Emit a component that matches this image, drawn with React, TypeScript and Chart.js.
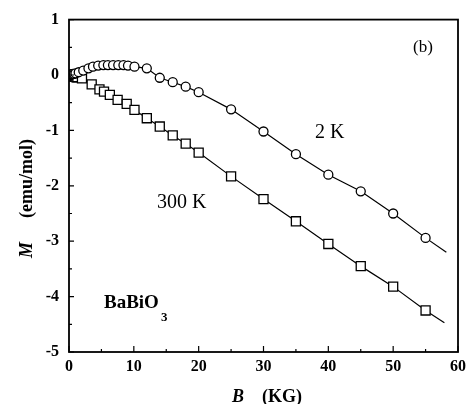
import React, { useEffect, useRef } from "react";
import { Chart, registerables } from "chart.js";

Chart.register(...registerables);

// 2 K series (circles)
const b2K = [0, 0.15, 0.3, 0.45, 0.6, 0.8, 1.0, 1.5, 2.2, 3.0, 3.7, 4.5, 5.3, 6.0, 6.8, 7.6, 8.4, 9.1, 10.1, 12, 14, 16, 18, 20, 25, 30, 35, 40, 45, 50, 55];
const m2K = [0, 0.0, 0.01, 0.01, 0.02, 0.02, 0.03, 0.05, 0.08, 0.12, 0.15, 0.17, 0.18, 0.18, 0.18, 0.18, 0.18, 0.17, 0.15, 0.12, -0.05, -0.13, -0.21, -0.31, -0.62, -1.02, -1.43, -1.80, -2.10, -2.50, -2.94];

// 300 K series (squares)
const b300K = [0, 0.1, 0.2, 0.3, 0.4, 0.5, 0.6, 0.7, 0.8, 0.9, 1.0, 1.15, 1.3, 2.0, 3.5, 4.7, 5.4, 6.3, 7.5, 8.9, 10.1, 12, 14, 16, 18, 20, 25, 30, 35, 40, 45, 50, 55];
const m300K = [0, 0.0, -0.01, -0.01, -0.01, -0.02, -0.02, -0.02, -0.03, -0.03, -0.03, -0.04, -0.04, -0.06, -0.17, -0.26, -0.30, -0.36, -0.45, -0.52, -0.63, -0.78, -0.93, -1.09, -1.24, -1.40, -1.83, -2.24, -2.64, -3.05, -3.45, -3.82, -4.25];

// fitted line extensions beyond the last measured point
const ext2KB = [55, 58.2];
const ext2KM = [-2.94, -3.2];
const ext300KB = [55, 57.9];
const ext300KM = [-4.25, -4.47];

const xTicks = [0, 10, 20, 30, 40, 50, 60];
const yTicks = [1, 0, -1, -2, -3, -4, -5];

const SERIF = "'Liberation Serif', 'DejaVu Serif', serif";

const toXY = (bs: number[], ms: number[]) => bs.map((b, i) => ({ x: b, y: ms[i] }));

const decorPlugin = {
  id: "decor",
  afterDraw(chart: any) {
    const { ctx, chartArea: a, scales } = chart;
    const xs = scales.x;
    const ys = scales.y;
    ctx.save();
    // frame
    ctx.strokeStyle = "#000";
    ctx.lineWidth = 1.8;
    ctx.strokeRect(a.left, a.top, a.right - a.left, a.bottom - a.top);
    // inward ticks
    ctx.lineWidth = 1.2;
    ctx.beginPath();
    for (let v = 0; v <= 60; v += 5) {
      const px = xs.getPixelForValue(v);
      const len = v % 10 === 0 ? 6 : 3;
      ctx.moveTo(px, a.bottom);
      ctx.lineTo(px, a.bottom - len);
    }
    for (let v = -5; v <= 1; v += 0.5) {
      const py = ys.getPixelForValue(v);
      const len = Number.isInteger(v) ? 5 : 3;
      ctx.moveTo(a.left, py);
      ctx.lineTo(a.left + len, py);
    }
    ctx.stroke();

    ctx.fillStyle = "#000";
    ctx.textBaseline = "alphabetic";
    // annotations
    ctx.font = `17px ${SERIF}`;
    ctx.textAlign = "left";
    ctx.fillText("(b)", 413, 52);
    ctx.font = `20px ${SERIF}`;
    ctx.fillText("2 K", 315, 138);
    ctx.fillText("300 K", 157, 208);
    ctx.font = `bold 19px ${SERIF}`;
    ctx.fillText("BaBiO", 104, 308);
    const w = ctx.measureText("BaBiO").width;
    ctx.font = `bold 13px ${SERIF}`;
    ctx.fillText("3", 104 + w + 2, 321);

    // x title
    ctx.font = `italic bold 18px ${SERIF}`;
    ctx.fillText("B", 232, 402);
    ctx.font = `bold 18px ${SERIF}`;
    ctx.fillText("(KG)", 262, 402);

    // y title
    ctx.translate(32, 258);
    ctx.rotate(-Math.PI / 2);
    ctx.font = `italic bold 18px ${SERIF}`;
    ctx.fillText("M", 0, 0);
    ctx.font = `bold 18px ${SERIF}`;
    ctx.fillText("(emu/mol)", 40, 0);
    ctx.restore();
  },
};

export default function App() {
  const ref = useRef<HTMLCanvasElement | null>(null);
  useEffect(() => {
    if (!ref.current) return;
    const chart = new Chart(ref.current, {
      type: "scatter",
      data: {
        datasets: [
          {
            data: toXY(b2K, m2K),
            showLine: true,
            borderColor: "#000",
            borderWidth: 1.2,
            pointStyle: "circle",
            pointRadius: 4.5,
            pointBorderWidth: 1.3,
            pointBackgroundColor: "#fff",
            pointBorderColor: "#000",
          },
          {
            data: toXY(b300K, m300K),
            showLine: true,
            borderColor: "#000",
            borderWidth: 1.2,
            pointStyle: "rect",
            pointRadius: 6.4,
            pointBorderWidth: 1.3,
            pointBackgroundColor: "#fff",
            pointBorderColor: "#000",
          },
          {
            data: toXY(ext2KB, ext2KM),
            showLine: true,
            borderColor: "#000",
            borderWidth: 1.2,
            pointRadius: 0,
          },
          {
            data: toXY(ext300KB, ext300KM),
            showLine: true,
            borderColor: "#000",
            borderWidth: 1.2,
            pointRadius: 0,
          },
        ],
      },
      options: {
        responsive: false,
        animation: false,
        layout: { padding: { top: 15, right: 9, left: 0, bottom: 0 } },
        plugins: { legend: { display: false }, tooltip: { enabled: false } },
        scales: {
          x: {
            type: "linear",
            min: 0,
            max: 60,
            afterFit: (s: any) => {
              s.height = 52;
            },
            afterBuildTicks: (s: any) => {
              s.ticks = xTicks.map((v) => ({ value: v }));
            },
            grid: { display: false, drawTicks: false },
            border: { display: false },
            ticks: {
              autoSkip: false,
              maxRotation: 0,
              padding: 5,
              color: "#000",
              font: { family: SERIF, size: 16, weight: "bold" },
            },
          },
          y: {
            type: "linear",
            min: -5,
            max: 1,
            afterFit: (s: any) => {
              s.width = 69;
            },
            afterBuildTicks: (s: any) => {
              s.ticks = yTicks.map((v) => ({ value: v }));
            },
            grid: { display: false, drawTicks: false },
            border: { display: false },
            ticks: {
              autoSkip: false,
              padding: 10,
              color: "#000",
              font: { family: SERIF, size: 16, weight: "bold" },
            },
          },
        },
      },
      plugins: [decorPlugin],
    } as any);
    return () => chart.destroy();
  }, []);
  return (
    <div style={{ position: "fixed", left: 0, top: 0, width: 471, height: 404, background: "#fff" }}>
      <canvas ref={ref} width={471} height={404} />
    </div>
  );
}
